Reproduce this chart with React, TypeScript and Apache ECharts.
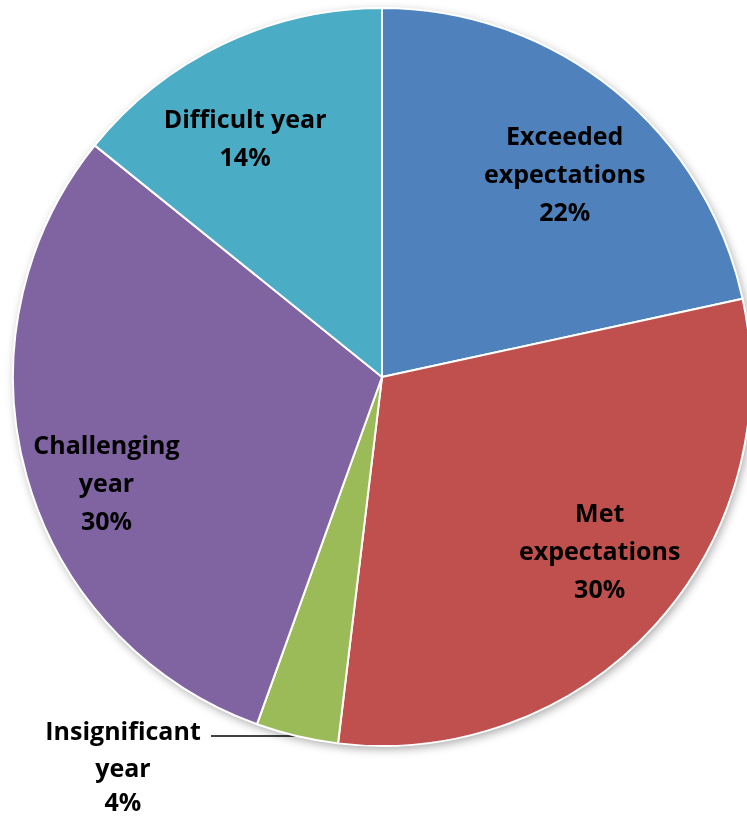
import React, { useEffect, useRef } from 'react';
import * as echarts from 'echarts';

const categories = ['Exceeded expectations', 'Met expectations', 'Insignificant year', 'Challenging year', 'Difficult year'];
const labelLines = [['Exceeded', 'expectations'], ['Met', 'expectations'], ['Insignificant', 'year'], ['Challenging', 'year'], ['Difficult year']];
const values = [21.6, 30.3, 3.6, 30.3, 14.2];
const colors = ['#4F81BD', '#C0504D', '#9BBB59', '#8064A2', '#4BACC6'];

export default function App() {
  const ref = useRef<HTMLDivElement>(null);
  useEffect(() => {
    if (!ref.current) return;
    const chart = echarts.init(ref.current, null, { renderer: 'svg' });
    const cx = 382, cy = 377, R = 369;
    const nudges: Record<string, [number, number]> = {
      'Exceeded expectations': [65, -58],
      'Met expectations': [79, 47],
      'Challenging year': [-95, 54],
      'Difficult year': [-56, -71],
    };
    const font = '"Open Sans", Lato, sans-serif';
    const base = { fontSize: 25, fontWeight: 'bold', fontFamily: font, color: '#000' };
    const data = categories.map((name, i) => {
      const item: any = { name, value: values[i], itemStyle: { color: colors[i] } };
      if (name === 'Insignificant year') {
        item.label = {
          position: 'outside',
          padding: [55, 0, 0, 0],
          formatter: (p: any) => {
            const lines = [...labelLines[i], Math.round(p.percent) + '%'];
            return lines.map((t, k) => (k === lines.length - 1 ? `{b|${t}}` : `{a|${t}}`)).join('\n');
          },
          rich: {
            a: { ...base, width: 166, align: 'center', lineHeight: 37 },
            b: { ...base, width: 166, align: 'center', lineHeight: 30 },
          },
        };
        item.labelLine = { show: true, length: 0, length2: 86, lineStyle: { color: '#000', width: 1.5 } };
      }
      return item;
    });
    chart.setOption({
      animation: false,
      graphic: [{
        type: 'circle', z: -1, shape: { cx, cy, r: R },
        style: { fill: '#fff', shadowBlur: 10, shadowColor: 'rgba(0,0,0,0.35)', shadowOffsetX: 2, shadowOffsetY: 3 },
      }],
      series: [{
        type: 'pie',
        center: [cx, cy],
        radius: R,
        startAngle: 90,
        clockwise: true,
        avoidLabelOverlap: false,
        itemStyle: { borderColor: '#fff', borderWidth: 2 },
        label: {
          show: true,
          position: 'inside',
          ...base,
          lineHeight: 38,
          align: 'center',
          formatter: (p: any) => [...labelLines[p.dataIndex], Math.round(p.percent) + '%'].join('\n'),
        },
        labelLine: { show: false },
        labelLayout: (p: any) => {
          const n = nudges[categories[p.dataIndex]];
          return n ? { dx: n[0], dy: n[1] } : {};
        },
        emphasis: { disabled: true },
        data,
      }],
    });
    return () => chart.dispose();
  }, []);
  return <div ref={ref} style={{ position: 'fixed', left: 0, top: 0, width: 747, height: 818 }} />;
}
